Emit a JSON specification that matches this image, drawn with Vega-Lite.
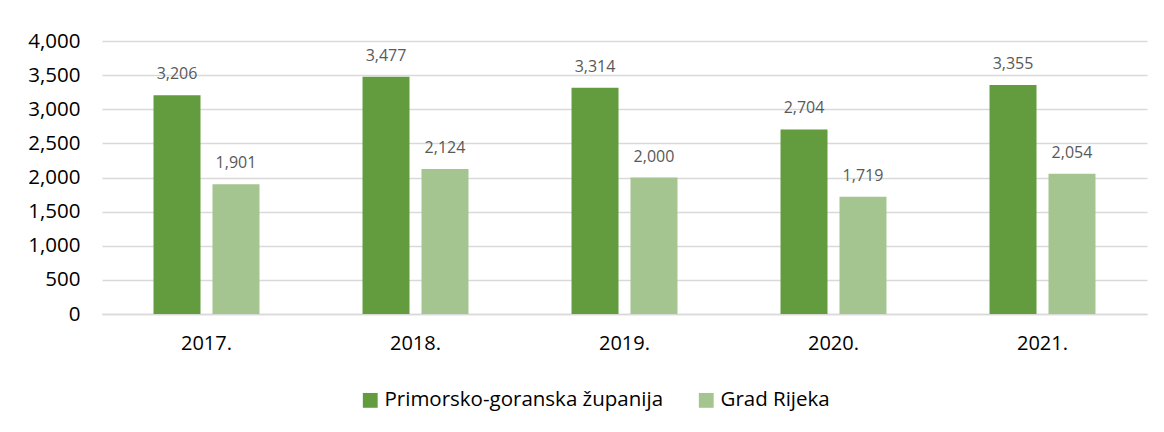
{
  "$schema": "https://vega.github.io/schema/vega-lite/v6.json",
  "autosize": {"type": "none"},
  "padding": {"left": 102, "top": 41, "right": 17, "bottom": 118},
  "width": 1045,
  "height": 273,
  "background": "white",
  "config": {
    "view": {"stroke": null},
    "font": "Open Sans"
  },
  "data": {
    "values": [
      {"year": "2017.", "series": "Primorsko-goranska županija", "value": 3206},
      {"year": "2017.", "series": "Grad Rijeka", "value": 1901},
      {"year": "2018.", "series": "Primorsko-goranska županija", "value": 3477},
      {"year": "2018.", "series": "Grad Rijeka", "value": 2124},
      {"year": "2019.", "series": "Primorsko-goranska županija", "value": 3314},
      {"year": "2019.", "series": "Grad Rijeka", "value": 2000},
      {"year": "2020.", "series": "Primorsko-goranska županija", "value": 2704},
      {"year": "2020.", "series": "Grad Rijeka", "value": 1719},
      {"year": "2021.", "series": "Primorsko-goranska županija", "value": 3355},
      {"year": "2021.", "series": "Grad Rijeka", "value": 2054}
    ]
  },
  "encoding": {
    "x": {
      "field": "year", "type": "nominal", "title": null,
      "scale": {"paddingInner": 0.493, "paddingOuter": 0.2465},
      "axis": {"labelAngle": 0, "ticks": false, "domainColor": "#D9D9D9", "domainWidth": 1.3, "labelFontSize": 20, "labelColor": "#000000", "labelPadding": 19}
    },
    "xOffset": {
      "field": "series", "type": "nominal",
      "sort": ["Primorsko-goranska županija", "Grad Rijeka"],
      "scale": {"paddingInner": 0.203, "paddingOuter": 0}
    },
    "y": {
      "field": "value", "type": "quantitative", "title": null,
      "scale": {"domain": [0, 4000]},
      "axis": {"values": [0, 500, 1000, 1500, 2000, 2500, 3000, 3500, 4000], "format": ",.0f", "domain": false, "ticks": false, "gridColor": "#D9D9D9", "gridWidth": 1.3, "labelFontSize": 20.5, "labelColor": "#000000", "labelPadding": 22}
    }
  },
  "layer": [
    {
      "mark": {"type": "bar"},
      "encoding": {
        "color": {
          "field": "series", "type": "nominal", "title": null,
          "sort": ["Primorsko-goranska županija", "Grad Rijeka"],
          "scale": {"domain": ["Primorsko-goranska županija", "Grad Rijeka"], "range": ["#629C3F", "#A4C590"]},
          "legend": {"orient": "none", "legendX": 258, "legendY": 349, "direction": "horizontal", "symbolType": "square", "symbolSize": 220, "symbolStrokeWidth": 0, "labelFontSize": 20.5, "labelColor": "#000000", "labelLimit": 500, "columnPadding": 32, "labelOffset": 4}
        }
      }
    },
    {
      "mark": {"type": "text", "baseline": "alphabetic", "dy": -16, "fontSize": 16, "color": "#595959"},
      "encoding": {
        "text": {"field": "value", "type": "quantitative", "format": ",.0f"}
      }
    }
  ]
}
